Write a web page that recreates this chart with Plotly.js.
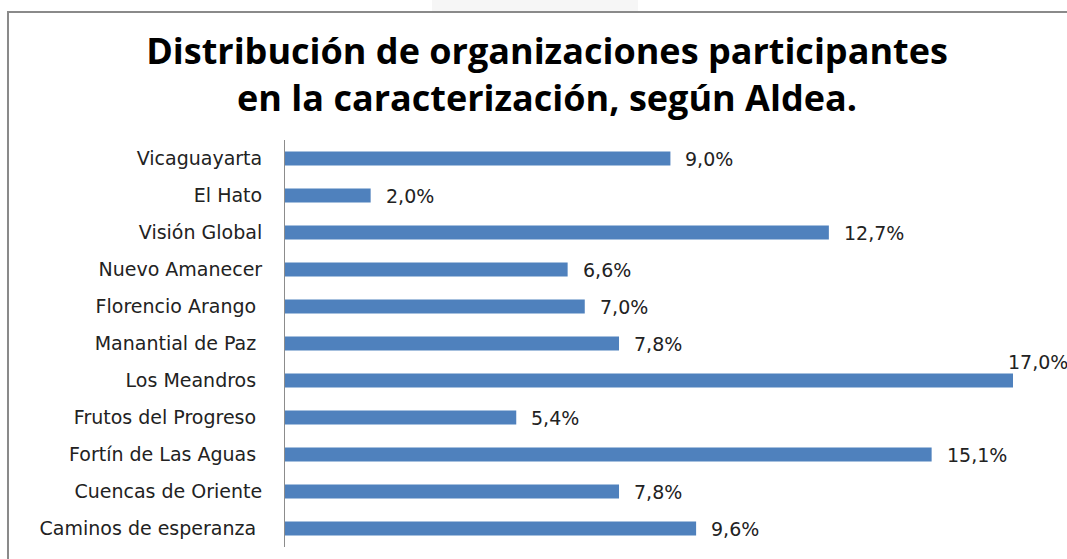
<!DOCTYPE html>
<html>
<head>
<meta charset="utf-8">
<script src="https://cdn.plot.ly/plotly-3.0.1.min.js"></script>
<style>html,body{margin:0;padding:0;background:#fff;}#chart{width:1067px;height:559px;}</style>
</head>
<body>
<div id="chart"></div>
<script>
const categories = ["Vicaguayarta", "El Hato", "Visión Global", "Nuevo Amanecer", "Florencio Arango", "Manantial de Paz", "Los Meandros", "Frutos del Progreso", "Fortín de Las Aguas", "Cuencas de Oriente", "Caminos de esperanza"];
const tickLabels = ["Vicaguayarta", "El Hato", "Visión Global", "Nuevo Amanecer", "Florencio Arango\u00a0", "Manantial de Paz\u00a0", "Los Meandros\u00a0", "Frutos del Progreso\u00a0", "Fortín de Las Aguas\u00a0", "Cuencas de Oriente", "Caminos de esperanza\u00a0"];
const values = [9.0, 2.0, 12.7, 6.6, 7.0, 7.8, 17.0, 5.4, 15.1, 7.8, 9.6];
const titleText = "Distribución de organizaciones participantes<br>en la caracterización, según Aldea.";

const fmt = v => v.toFixed(1).replace('.', ',') + '%';
const maxVal = Math.max(...values);

const trace = {
  type: 'bar',
  orientation: 'h',
  x: values,
  y: categories,
  marker: {color: '#4f81bd'},
  hoverinfo: 'x+y'
};

const annotations = values.map((v, i) => ({
  x: v, y: categories[i], xref: 'x', yref: 'y',
  text: fmt(v), showarrow: false,
  xanchor: 'left', yanchor: 'middle',
  xshift: v === maxVal ? -7 : 13,
  yshift: v === maxVal ? 19 : 0,
  font: {family: 'DejaVu Sans', size: 19, color: '#222'}
}));

const layout = {
  width: 1067, height: 559,
  margin: {l: 285, r: 54, t: 140, b: 12},
  paper_bgcolor: '#ffffff', plot_bgcolor: '#ffffff',
  showlegend: false,
  bargap: 0.62,
  title: {
    text: titleText,
    font: {family: 'Open Sans', size: 36, color: '#000', weight: 'bold'},
    x: 547/1067, xanchor: 'center', xref: 'container',
    y: 1 - 64/559, yanchor: 'middle', yref: 'container'
  },
  xaxis: {range: [0, 17], showgrid: false, zeroline: false, showticklabels: false, showline: false, fixedrange: true},
  yaxis: {
    autorange: 'reversed', showgrid: false, zeroline: false,
    showline: true, linecolor: '#8c8c8c', linewidth: 1,
    ticks: '', ticklabelstandoff: 18,
    tickmode: 'array', tickvals: categories, ticktext: tickLabels,
    tickfont: {family: 'DejaVu Sans', size: 19, color: '#222'}
  },
  annotations: annotations,
  shapes: [
    {type: 'rect', xref: 'paper', yref: 'paper', x0: -0.3805, x1: 1.2, y0: -0.1, y1: (547-12)/407,
     line: {color: '#8a8a8a', width: 2}, fillcolor: 'rgba(0,0,0,0)', layer: 'below'},
    {type: 'rect', xref: 'paper', yref: 'paper', x0: (432-285)/728, x1: (638-285)/728, y0: (547-11)/407, y1: (547+10)/407,
     line: {width: 0}, fillcolor: '#f6f6f6', layer: 'below'}
  ]
};

Plotly.newPlot('chart', [trace], layout, {displayModeBar: false});
</script>
</body>
</html>
